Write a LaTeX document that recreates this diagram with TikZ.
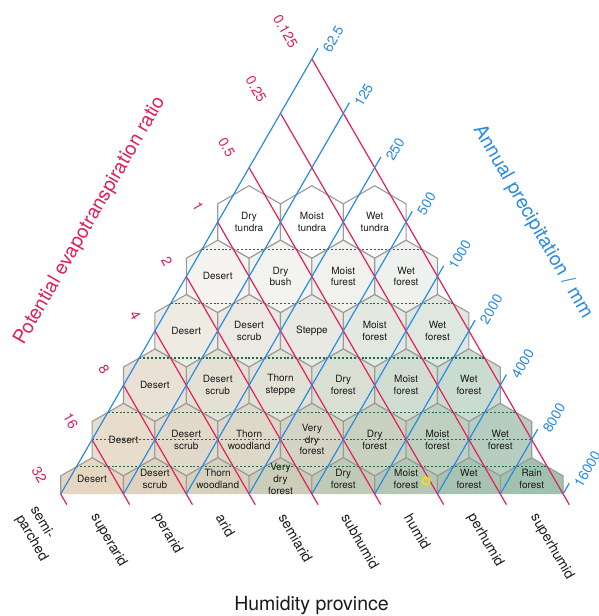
\documentclass[tikz,border=0pt]{standalone}
\usepackage{fontspec}
\setmainfont{TeX Gyre Heros}
\usetikzlibrary{calc}
\definecolor{myred}{HTML}{E0215C}
\definecolor{myblue}{HTML}{2A8BE4}
\definecolor{hexgray}{HTML}{9A9A9A}
\definecolor{dashgreen}{HTML}{1E6A4C}
\definecolor{txt}{HTML}{1A1A1A}
\definecolor{markyellow}{HTML}{F2E600}
\tikzset{
  hexline/.style={draw=hexgray, line width=1.1pt, line join=miter},
  cell/.style={font=\fontsize{10}{11.7}\selectfont, align=center, inner sep=0pt, text=txt},
  redline/.style={draw=myred, line width=1.2pt},
  blueline/.style={draw=myblue, line width=1.2pt},
  dashline/.style={draw=dashgreen, line width=1.1pt, dash pattern=on 2pt off 1.9pt},
  redlab/.style={font=\fontsize{14}{16}\selectfont, text=myred, anchor=east, rotate=-60, inner sep=0pt},
  bluelab/.style={font=\fontsize{14}{16}\selectfont, text=myblue, anchor=west, rotate=60, inner sep=0pt},
  provlab/.style={font=\fontsize{14}{17}\selectfont, text=txt, anchor=west, rotate=-60, inner sep=0pt, align=left},
  titlelab/.style={font=\fontsize{19.5}{22}\selectfont, inner sep=0pt}
}
\newcommand\hexcell[5]{%
  \definecolor{tmpfill}{HTML}{#4}%
  \filldraw[hexline, fill=tmpfill, shift={(#2,#3)}] (0,-36.26) -- (31.4,-18.13) -- (31.4,18.13) -- (0,36.26) -- (-31.4,18.13) -- (-31.4,-18.13) -- cycle;
  \node[cell] (#1) at (#2,#3) {#5};}
\newcommand\halfcell[4]{%
  \definecolor{tmpfill}{HTML}{#3}%
  \fill[fill=tmpfill, shift={(#2,494)}] (-31.4,0) -- (-31.4,-18.13) -- (0,-36.26) -- (31.4,-18.13) -- (31.4,0) -- cycle;
  \draw[hexline, shift={(#2,494)}] (-31.4,0) -- (-31.4,-18.13) -- (0,-36.26) -- (31.4,-18.13) -- (31.4,0);
  \node[cell] (#1) at (#2,479) {#4};}
\begin{document}
\begin{tikzpicture}[x=1pt,y=-1pt]
\useasboundingbox (0,0) rectangle (598,616);
\fill[white] (0,0) rectangle (598,616);
\coordinate (L) at (60.7,494);
\coordinate (R) at (563.1,494);
\coordinate (A) at (311.9,58.9);
% row 0
\hexcell{c00}{249.1}{222.0}{FFFFFF}{Dry\\tundra}
\hexcell{c01}{311.9}{222.0}{FFFFFF}{Moist\\tundra}
\hexcell{c02}{374.7}{222.0}{FFFFFF}{Wet\\tundra}
% row 1
\hexcell{c10}{217.7}{276.4}{F5F4F0}{Desert}
\hexcell{c11}{280.5}{276.4}{F3F3EF}{Dry\\bush}
\hexcell{c12}{343.3}{276.4}{F1F2EE}{Moist\\furest}
\hexcell{c13}{406.1}{276.4}{EEF1ED}{Wet\\forest}
% row 2
\hexcell{c20}{186.3}{330.8}{EEEBE3}{Desert}
\hexcell{c21}{249.1}{330.8}{EBE9E1}{Desert\\scrub}
\hexcell{c22}{311.9}{330.8}{E8E9E2}{Steppe}
\hexcell{c23}{374.7}{330.8}{E3E8E1}{Moist\\forest}
\hexcell{c24}{437.5}{330.8}{DFE8E0}{Wet\\forest}
% row 3
\hexcell{c30}{154.9}{385.2}{E9E1D5}{Desert}
\hexcell{c31}{217.7}{385.2}{E5E0D4}{Desert\\scrub}
\hexcell{c32}{280.5}{385.2}{E1E1D6}{Thorn\\steppe}
\hexcell{c33}{343.3}{385.2}{DADFD4}{Dry\\forest}
\hexcell{c34}{406.1}{385.2}{D2DDD2}{Moist\\forest}
\hexcell{c35}{468.9}{385.2}{CADBCF}{Wet\\forest}
% row 4
\hexcell{c40}{123.5}{439.6}{E8DCCB}{Desert}
\hexcell{c41}{186.3}{439.6}{E3D9CA}{Desert\\scrub}
\hexcell{c42}{249.1}{439.6}{DDD8C8}{Thorn\\woodland}
\hexcell{c43}{311.9}{439.6}{D4D4C4}{Very\\dry\\forest}
\hexcell{c44}{374.7}{439.6}{C9D1C1}{Dry\\forest}
\hexcell{c45}{437.5}{439.6}{BFCFC0}{Moist\\forest}
\hexcell{c46}{500.3}{439.6}{B6CDBF}{Wet\\forest}
% row 5 (half cells)
\halfcell{c50}{92.1}{E6D5C1}{Desert}
\halfcell{c51}{154.9}{DFD3C0}{Desert\\scrub}
\halfcell{c52}{217.7}{D7D0BD}{Thorn\\woodland}
\halfcell{c53}{280.5}{CCCDB9}{Very\\dry\\forest}
\halfcell{c54}{343.3}{C1CAB6}{Dry\\forest}
\halfcell{c55}{406.1}{B5C6B4}{Moist\\forest}
\halfcell{c56}{468.9}{A9C3B1}{Wet\\forest}
\halfcell{c57}{531.7}{A0C1AD}{Rain\\forest}
% dashed levels
\foreach \f in {4.5,3.5,2.5,1.5,1,0.5}
  \draw[dashline] ($(L)!\f/8!(A)$) -- ($(R)!\f/8!(A)$);
% red lines (PET ratio)
\foreach \j/\lab in {0/0.125,1/0.25,2/0.5,3/1,4/2,5/4,6/8,7/16,8/32} {
  \coordinate (P\j) at ($(A)!\j/8!(L)$);
  \coordinate (Q\j) at ($(R)!\j/8!(L)$);
  \draw[redline] (P\j) -- ($(Q\j)+(6.15,10.65)$);
  \node[redlab] (rl\j) at ($(P\j)+(-17.5,-12)$) {\lab};
}
% blue lines (precipitation)
\foreach \k/\lab in {0/62.5,1/125,2/250,3/500,4/1000,5/2000,6/4000,7/8000,8/16000} {
  \coordinate (B\k) at ($(L)!\k/8!(R)$);
  \coordinate (T\k) at ($(A)!\k/8!(R)$);
  \draw[blueline] (B\k) -- ($(T\k)+(6.15,-10.65)$);
  \node[bluelab] (bl\k) at ($(T\k)+(14.5,-8)$) {\lab};
}
% humidity provinces
\node[provlab] (h0) at (26,512) {semi-\\parched};
\node[provlab] (h1) at (93.9,515) {superarid};
\node[provlab] (h2) at (156.7,515) {perarid};
\node[provlab] (h3) at (219.5,515) {arid};
\node[provlab] (h4) at (282.3,515) {semiarid};
\node[provlab] (h5) at (345.1,515) {subhumid};
\node[provlab] (h6) at (407.9,515) {humid};
\node[provlab] (h7) at (470.7,515) {perhumid};
\node[provlab] (h8) at (533.5,515) {superhumid};
% titles
\node[titlelab, text=myred, rotate=60] (ytitle) at (90,221) {Potential evapotranspiration ratio};
\node[titlelab, text=myblue, rotate=-60] (ptitle) at (532.5,221.7) {Annual precipitation / mm};
\node[titlelab, text=txt] (xtitle) at (311.5,605.5) {Humidity province};
% marker
\node[circle, draw=markyellow, line width=1.6pt, minimum size=7.5pt, inner sep=0pt] (marker) at (426,481) {};
\end{tikzpicture}
\end{document}
